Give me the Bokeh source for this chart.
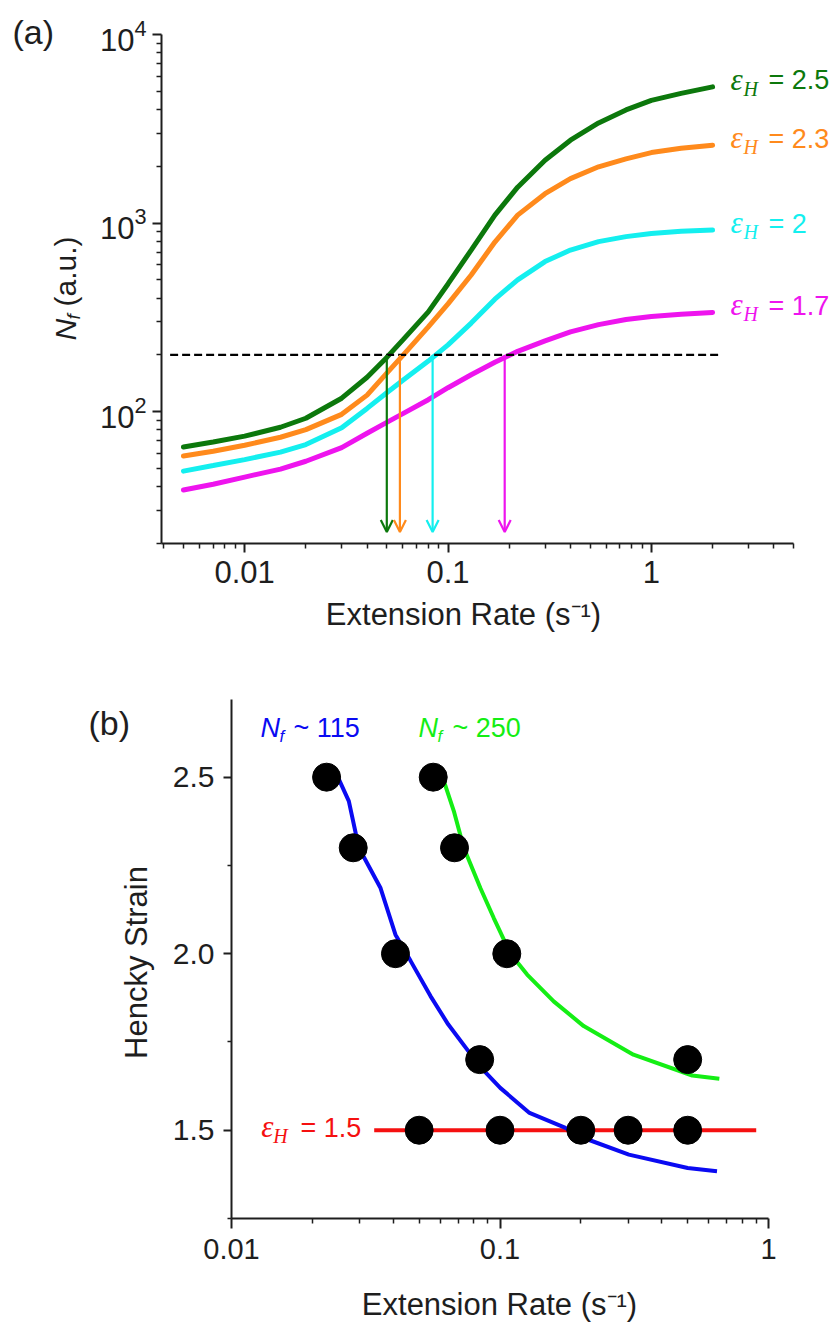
import math

from bokeh.embed import file_html
from bokeh.layouts import column
from bokeh.models import (Arrow, CustomJSTickFormatter, FixedTicker, Label,
                          LinearAxis, LogAxis, OpenHead, PrintfTickFormatter,
                          Range1d)
from bokeh.plotting import figure
from bokeh.resources import INLINE

# ---------------- data: panel (a) ----------------
rate_a = [0.005, 0.007, 0.01, 0.015, 0.02, 0.03, 0.04, 0.05, 0.06, 0.08, 0.1,
          0.13, 0.17, 0.22, 0.3, 0.4, 0.55, 0.75, 1.0, 1.4, 2.0]
nf_eps25 = [64.9, 69.0, 74.2, 82.7, 92.3, 117.9, 152.2, 194, 240.4, 338, 475.6,
            719.6, 1102, 1550, 2155, 2750, 3398, 3983, 4477, 4875, 5275]
nf_eps23 = [58.2, 61.7, 66.4, 73.2, 80.3, 96.8, 122.4, 160, 199, 281.7, 372.7,
            530.6, 793.3, 1102, 1432, 1722, 1988, 2191, 2366, 2493, 2586]
nf_eps20 = [48.4, 51.8, 55.7, 61.0, 66.9, 82.1, 104.1, 126.1, 146.6, 185.5, 226.2,
            295, 395, 500, 625, 719.7, 797.3, 847.5, 881, 904, 918.6]
nf_eps17 = [38.4, 41.2, 45.0, 49.6, 54.6, 64.5, 76.8, 87.8, 97.6, 115.7, 134,
            157, 182.7, 209, 237.5, 265, 289.6, 308.2, 319.8, 328.8, 335.7]
strain_names = ["2.5", "2.3", "2", "1.7"]
threshold_nf = 200
threshold_span = [0.0043, 2.2]
crossing_rates = [0.05, 0.058, 0.084, 0.19]
arrow_tip_nf = 23
a_rate_bounds = (0.0039, 5.0)
a_nf_bounds = (20, 1e4)
a_rate_ticks = [0.01, 0.1, 1]
a_nf_ticks = [100, 1000, 10000]

# ---------------- data: panel (b) ----------------
pts_rate = [0.0226, 0.0284, 0.0408, 0.084,
            0.0564, 0.0677, 0.106, 0.5,
            0.05, 0.1, 0.2, 0.3, 0.5]
pts_strain = [2.5, 2.3, 2.0, 1.7,
              2.5, 2.3, 2.0, 1.7,
              1.5, 1.5, 1.5, 1.5, 1.5]

nf115_rate = [0.0249, 0.02735, 0.0298, 0.0359, 0.0408, 0.0465, 0.0551, 0.0641,
              0.0841, 0.1002, 0.1288, 0.1754, 0.2051, 0.302, 0.5, 0.643]
nf115_strain = [2.5, 2.432, 2.30, 2.186, 2.054, 1.979, 1.880, 1.80,
                1.681, 1.620, 1.549, 1.5065, 1.478, 1.431, 1.393, 1.384]
nf250_rate = [0.0605, 0.0673, 0.0733, 0.0845, 0.0948, 0.1094, 0.1262, 0.1585,
              0.205, 0.314, 0.52, 0.656]
nf250_strain = [2.51, 2.404, 2.30, 2.186, 2.101, 2.0, 1.941, 1.865,
                1.795, 1.714, 1.655, 1.646]
const_strain = 1.5
const_rate_span = [0.034, 0.9]
b_rate_bounds = (0.01, 1.0)
b_strain_bounds = (1.25, 2.72)
b_rate_ticks = [0.01, 0.1, 1]
b_strain_ticks = [1.5, 2.0, 2.5]
b_strain_minor = [1.25, 1.75, 2.25]

# ---------------- styling ----------------
W = 833
H_TOP, H_BOT = 660, 664
SANS = "Liberation Sans"
SERIF = "Liberation Serif"
INK = "#1e1e1e"

C_25, C_23, C_20, C_17 = "#0c780c", "#ff8a1c", "#14efef", "#ee14ee"
C_115, C_250, C_RED = "#0a0af2", "#14ee14", "#f51010"

# where the axes sit on the page (pixels)
A_L, A_R, A_T, A_B = 161, 793, 34, 543
B_L, B_R, B_T, B_B = 231, 768, 699, 1218

# distance from the alphabetic baseline to the middle of the text box (em)
MID = 0.35


def log_span(v0, p0, v1, p1, total):
    """Range whose log scale puts v0 at pixel p0 and v1 at pixel p1."""
    a, b = math.log10(v0), math.log10(v1)
    k = (b - a) / (p1 - p0)
    return Range1d(10 ** (a - k * p0), 10 ** (b + k * (total - p1)))


def lin_span(v0, p0, v1, p1, total):
    k = (v1 - v0) / (p1 - p0)
    return Range1d(v0 - k * p0, v1 + k * (total - p1))


def make_fig(height, x_rng, y_rng, x_type, y_type):
    # the frame fills the whole canvas; axes are pinned inside it
    p = figure(width=W, height=height, x_range=x_rng, y_range=y_rng,
               x_axis_type=x_type, y_axis_type=y_type,
               x_axis_location=None, y_axis_location=None,
               min_border=0, toolbar_location=None, output_backend="svg")
    p.outline_line_color = None
    p.xgrid.visible = False
    p.ygrid.visible = False
    return p


def style_axis(ax, size, major_out=9, minor_out=5, standoff=6):
    ax.axis_line_color = INK
    ax.axis_line_width = 2
    ax.major_tick_line_color = INK
    ax.major_tick_line_width = 2
    ax.minor_tick_line_color = INK
    ax.minor_tick_line_width = 1.5
    ax.major_tick_in = 0
    ax.major_tick_out = major_out
    ax.minor_tick_in = 0
    ax.minor_tick_out = minor_out
    ax.major_label_text_font = SANS
    ax.major_label_text_font_size = f"{size}px"
    ax.major_label_text_color = INK
    ax.major_label_standoff = standoff


def put(p, text, x, y, size, color=INK, font=SANS, style="normal",
        align="left", vertical=False, units="screen", dx=0, dy=0):
    """Place text so that its baseline passes through (x, y) (+ offsets)."""
    if vertical:
        dx -= MID * size
    else:
        dy += MID * size
    p.add_layout(Label(x=x, y=y, x_units=units, y_units=units, text=text,
                       text_font=font, text_font_size=f"{size}px",
                       text_font_style=style, text_color=color,
                       text_align=align, text_baseline="middle",
                       angle=math.pi / 2 if vertical else 0.0,
                       x_offset=dx, y_offset=dy))


def minors(decades, lo, hi):
    vals = [m * 10.0 ** d for d in decades for m in range(2, 10)]
    return [v for v in vals if lo * 0.999 <= v <= hi * 1.001]


# ================= panel (a) =================
pa = make_fig(H_TOP,
              log_span(a_rate_bounds[0], A_L, a_rate_bounds[1], A_R, W),
              log_span(a_nf_bounds[0], H_TOP - A_B, a_nf_bounds[1], H_TOP - A_T, H_TOP),
              "log", "log")


def a_xy(px, py):
    return px, H_TOP - py


xa = LogAxis(ticker=FixedTicker(ticks=a_rate_ticks,
                                minor_ticks=minors([-3, -2, -1, 0], *a_rate_bounds)),
             formatter=CustomJSTickFormatter(code="return tick.toString()"),
             fixed_location=a_nf_bounds[0], bounds=a_rate_bounds)
style_axis(xa, 31, standoff=8)
pa.add_layout(xa, "below")

ya = LogAxis(ticker=FixedTicker(ticks=a_nf_ticks, minor_ticks=minors([1, 2, 3], *a_nf_bounds)),
             fixed_location=a_rate_bounds[0], bounds=a_nf_bounds)
style_axis(ya, 31, standoff=6)
pa.add_layout(ya, "left")

series = [nf_eps25, nf_eps23, nf_eps20, nf_eps17]
colors = [C_25, C_23, C_20, C_17]
for ys, c in zip(series, colors):
    pa.line(rate_a, ys, line_color=c, line_width=5, line_cap="round")

pa.line(threshold_span, [threshold_nf, threshold_nf], line_color="black",
        line_width=2.2, line_dash="8 4")

for xr, c in zip(crossing_rates, colors):
    pa.add_layout(Arrow(x_start=xr, y_start=threshold_nf, x_end=xr, y_end=arrow_tip_nf,
                        line_color=c, line_width=2.2,
                        end=OpenHead(size=12, line_color=c, line_width=2.2)))

# strain labels at the right-hand end of each curve
for ys, c, name in zip(series, colors, strain_names):
    x_end, y_end = rate_a[-1], ys[-1]
    put(pa, "\u03b5", x_end, y_end, 31, c, SERIF, "italic", units="data", dx=18, dy=-3)
    put(pa, "H", x_end, y_end, 20, c, SERIF, "italic", units="data", dx=31, dy=-9)
    put(pa, "= " + name, x_end, y_end, 27, c, units="data", dx=56, dy=-3)

# axis titles
put(pa, "Extension Rate (s\u207b\u00b9)", *a_xy(463, 625), 31, align="center")
put(pa, "N", *a_xy(75, 340), 30, style="italic", vertical=True)
put(pa, "f", *a_xy(80, 319), 19, style="italic", vertical=True)
put(pa, "(a.u.)", *a_xy(75, 306), 30, vertical=True)

put(pa, "(a)", *a_xy(12, 43), 34)

# ================= panel (b) =================
pb = make_fig(H_BOT,
              log_span(b_rate_bounds[0], B_L, b_rate_bounds[1], B_R, W),
              lin_span(b_strain_bounds[0], H_TOP + H_BOT - B_B,
                       b_strain_bounds[1], H_TOP + H_BOT - B_T, H_BOT),
              "log", "linear")


def b_xy(px, py):
    return px, H_TOP + H_BOT - py


xb = LogAxis(ticker=FixedTicker(ticks=b_rate_ticks, minor_ticks=minors([-2, -1], *b_rate_bounds)),
             formatter=CustomJSTickFormatter(code="return tick.toString()"),
             fixed_location=b_strain_bounds[0], bounds=b_rate_bounds)
style_axis(xb, 29, major_out=10, minor_out=5, standoff=10)
pb.add_layout(xb, "below")

yb = LinearAxis(ticker=FixedTicker(ticks=b_strain_ticks, minor_ticks=b_strain_minor),
                formatter=PrintfTickFormatter(format="%.1f"),
                fixed_location=b_rate_bounds[0], bounds=b_strain_bounds)
style_axis(yb, 30, major_out=8, minor_out=4, standoff=9)
pb.add_layout(yb, "left")

pb.line(const_rate_span, [const_strain, const_strain], line_color=C_RED, line_width=4)
pb.line(nf115_rate, nf115_strain, line_color=C_115, line_width=4)
pb.line(nf250_rate, nf250_strain, line_color=C_250, line_width=4)
pb.scatter(pts_rate, pts_strain, size=28, color="black")

# eps_H = 1.5 label, just left of where the constant-strain line starts
x0 = const_rate_span[0]
put(pb, "\u03b5", x0, const_strain, 31, C_RED, SERIF, "italic", units="data", dx=-113, dy=-7)
put(pb, "H", x0, const_strain, 20, C_RED, SERIF, "italic", units="data", dx=-101, dy=-13)
put(pb, "= 1.5", x0, const_strain, 27, C_RED, align="right", units="data", dx=-13, dy=-7)

# iso-N_f curve titles
put(pb, "N", *b_xy(260, 737), 27, C_115, style="italic")
put(pb, "f", *b_xy(279, 742), 17, C_115, style="italic")
put(pb, "~ 115", *b_xy(293, 737), 27, C_115)
put(pb, "N", *b_xy(418, 737), 27, C_250, style="italic")
put(pb, "f", *b_xy(437, 742), 17, C_250, style="italic")
put(pb, "~ 250", *b_xy(452, 737), 27, C_250)

# axis titles
put(pb, "Extension Rate (s\u207b\u00b9)", *b_xy(499, 1315), 31, align="center")
put(pb, "Hencky Strain", *b_xy(147, 962), 31, align="center", vertical=True)

put(pb, "(b)", *b_xy(88, 734), 34)

layout = column(pa, pb, spacing=0)
open("out.html", "w").write(file_html(layout, INLINE))
